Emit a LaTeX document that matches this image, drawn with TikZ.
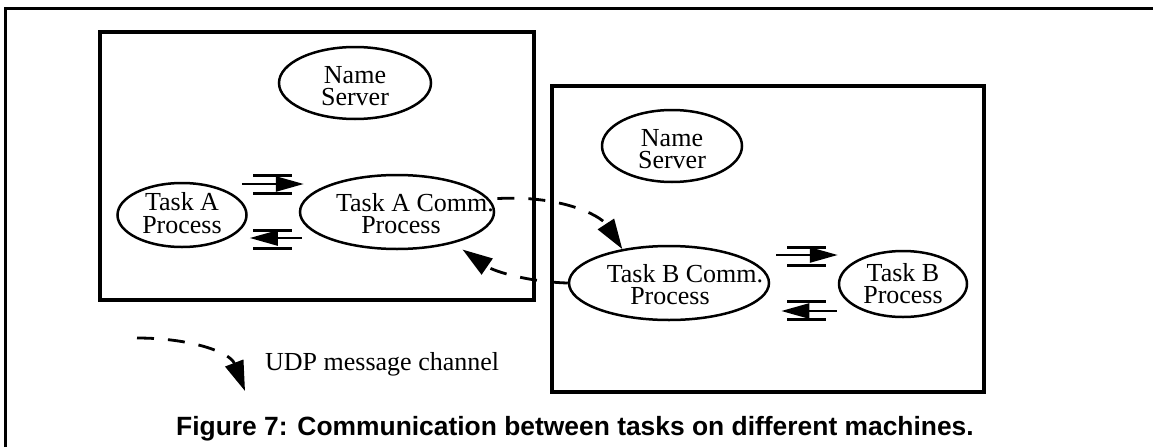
\documentclass[tikz,border=0pt]{standalone}
\usepackage{fontspec}
\setmainfont{Liberation Serif}
\newfontfamily\capfont{Liberation Sans}
\usetikzlibrary{arrows.meta,calc,shapes.geometric}

\tikzset{
  bars/.pic={\draw[line width=3pt] (-19.5,-9) -- (19.5,-9) (-19.5,9) -- (19.5,9);}
}

\begin{document}
\begin{tikzpicture}[x=1pt,y=-1pt,
  frame/.style={line width=3.5pt},
  proc/.style={draw, ellipse, line width=2.5pt, inner sep=0pt},
  lbl/.style={align=center, inner sep=0pt, font=\fontsize{26}{22.5}\selectfont},
  udp/.style={line width=2.8pt, dash pattern=on 17pt off 14pt,
              -{Triangle[length=30pt,width=19pt]}},
  pipe/.style={line width=2.5pt, -{Triangle[length=28pt,width=15pt]}}
]
\useasboundingbox (0,0) rectangle (1153,447);
\fill[white] (0,0) rectangle (1153,447);

% page frame (open to the right and bottom)
\draw[line width=3pt] (5.5,447) -- (5.5,8.5) -- (1153,8.5);

% the two machines
\draw[frame] (100,32) rectangle (534,300);
\draw[frame] (552,86) rectangle (984,392);

% processes on machine A
\node[proc, minimum width=152pt, minimum height=72pt] (nsa) at (355,83) {};
\node[proc, minimum width=129pt, minimum height=64pt] (ta) at (182,215) {};
\node[proc, minimum width=194pt, minimum height=74pt] (acomm) at (397,212) {};

% processes on machine B
\node[proc, minimum width=140pt, minimum height=72pt] (nsb) at (672,146) {};
\node[proc, minimum width=200pt, minimum height=74pt] (bcomm) at (669,283) {};
\node[proc, minimum width=128pt, minimum height=66pt] (tb) at (903,284) {};

% process labels
\node[lbl] (nsatxt) at (355,86) {Name\\Server};
\node[lbl] (tatxt) at (182,213) {Task A\\Process};
\node[lbl] (acommtxt) at (401,213.5) {\hspace*{28pt}Task A Comm.\\Process};
\node[lbl] (nsbtxt) at (672,149) {Name\\Server};
\node[lbl] (bcommtxt) at (670,284.5) {\hspace*{30pt}Task B Comm.\\Process};
\node[lbl] (tbtxt) at (903,283.5) {Task B\\Process};

% local pipes on machine A
\draw[pipe] ($(ta.east)+(-6,-31)$) -- ($(acomm.west)+(5,-28)$);
\pic at (272.5,184) {bars};
\draw[pipe] ($(acomm.west)+(3,26)$) -- ($(ta.east)+(2,23)$);
\pic at (272.5,239) {bars};

% local pipes on machine B
\draw[pipe] ($(bcomm.east)+(6,-28)$) -- ($(tb.west)+(0,-29)$);
\pic at (806.5,256) {bars};
\draw[pipe] ($(tb.west)+(-1,27)$) -- ($(bcomm.east)+(11,28)$);
\pic at (806.5,310.5) {bars};

% UDP channels between the machines
\draw[udp, shorten <=8pt] (acomm.8) .. controls (560,195) and (600,215) .. (bcomm.144);
\draw[udp, shorten >=11pt] (bcomm.west) .. controls (530,282) and (495,272) .. (acomm.-29);

% legend
\coordinate (leg1) at (137,338);
\coordinate (leg2) at (245,391);
\draw[udp] (leg1) .. controls (190,338) and (230,352) .. (leg2);
\node[anchor=base west, inner sep=0pt, font=\fontsize{26}{30}\selectfont] (legtxt) at (265,370) {UDP message channel};

% caption
\node[anchor=base, inner sep=0pt, font=\capfont\bfseries\fontsize{26.4}{32}\selectfont] (caption) at (575,435)
  {Figure 7: Communication between tasks on different machines.};
\end{tikzpicture}
\end{document}
